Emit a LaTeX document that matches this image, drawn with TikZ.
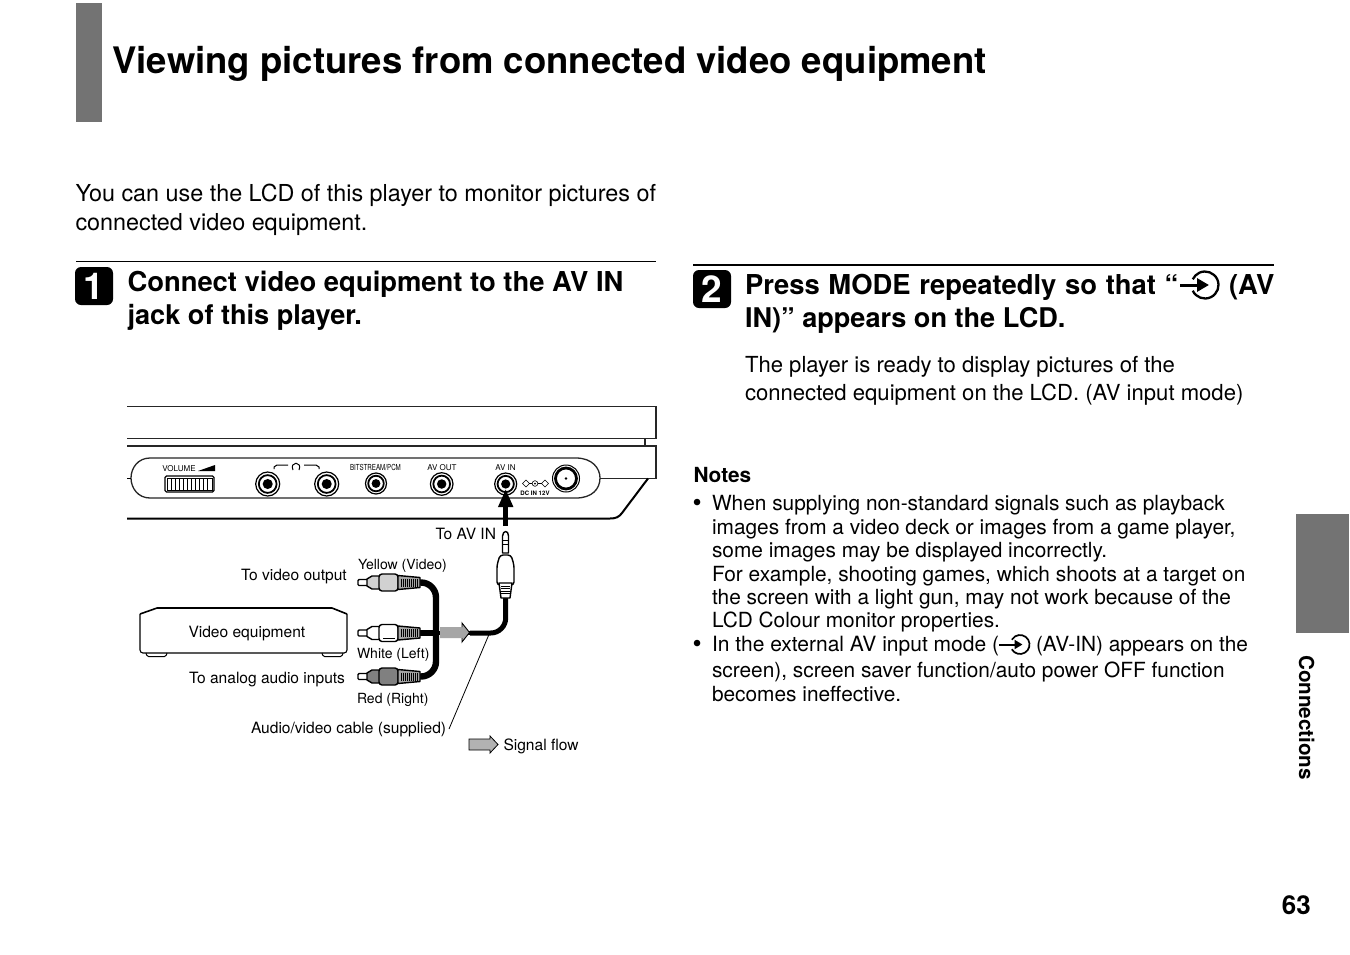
\documentclass[tikz,border=0pt]{standalone}
\usepackage{fontspec}
\setmainfont{TeX Gyre Heros}
\usetikzlibrary{arrows.meta}
\tikzset{
 txt/.style={anchor=base west,inner sep=0pt,outer sep=0pt,align=left},
 body/.style={txt,font=\fontsize{23.36}{28}\selectfont},
 para/.style={txt,font=\fontsize{22.1}{28}\selectfont},
 note/.style={txt,font=\fontsize{20.85}{26}\selectfont},
 bul/.style={txt,font=\fontsize{26}{26}\selectfont},
 head/.style={txt,font=\fontsize{27.4}{33}\selectfont\bfseries},
 headb/.style={txt,font=\fontsize{27.12}{33}\selectfont\bfseries},
 small/.style={txt,font=\fontsize{15.55}{18}\selectfont},
 smallb/.style={txt,font=\fontsize{14}{18}\selectfont},
 tiny/.style={anchor=base,inner sep=0pt,font=\fontsize{8}{10}\selectfont},
 devline/.style={draw=black!85,line width=1.3pt},
 graybar/.style={fill=black!55,draw=none},
 numbox/.style={fill=black,rounded corners=6pt,minimum width=38pt,minimum height=38pt,inner sep=0pt,text=white,font=\fontsize{37}{37}\selectfont\bfseries},
 flow/.style={fill=black!30,draw=black,line width=.8pt},
 plug/.style={draw=black,line width=1.4pt,line join=round}
}
\newcommand{\jack}[4]{% x y name radius
 \node[circle,draw=black,line width=1.2pt,fill=white,minimum size=#4*2pt,inner sep=0pt] (#3) at (#1,#2) {};
 \draw[line width=1.8pt] (#1,#2) circle (#4*0.74pt);
 \fill[black] (#1,#2) circle (#4*0.42pt);}
\newcommand{\rca}[3]{% y name bodycolor
 \draw[plug,fill=white,rounded corners=1pt] (358,#1-3) -- (368,#1-3) -- (368,#1+3) -- (358,#1+3) -- cycle;
 \draw[plug,fill=#3] (367,#1-3.5) -- (372,#1-6.5) -- (380,#1-6.5) -- (380,#1+6.5) -- (372,#1+6.5) -- (367,#1+3.5) -- cycle;
 \draw[plug,fill=#3,rounded corners=3pt] (379,#1-8.5) -- (398,#1-8.5) -- (398,#1+8.5) -- (379,#1+8.5) -- cycle;
 \draw[plug,fill=black!35] (398,#1-7) -- (420,#1-5) -- (420,#1+5) -- (398,#1+7) -- cycle;
 \foreach \k in {401,403,...,417} \draw[line width=.6pt] (\k,#1-4) -- (\k,#1+4);
 \coordinate (#2) at (420,#1);}
\begin{document}
\begin{tikzpicture}[x=1pt,y=-1pt]
\useasboundingbox (0,0) rectangle (1350,954);
\fill[white] (0,0) rectangle (1350,954);
% header
\fill[graybar] (76,3) rectangle (102,122);
\node[txt,font=\fontsize{36.5}{40}\selectfont\bfseries] (title) at (112.5,73) {Viewing pictures from connected video equipment};
\node[body] (intro1) at (75.5,201.5) {You can use the LCD of this player to monitor pictures of};
\node[body] (intro2) at (75.5,230) {connected video equipment.};
% step 1
\draw[line width=1pt] (76,261) -- (656,261);
\node[numbox] (n1) at (94,286) {1};
\node[head] (s1a) at (127.5,291) {Connect video equipment to the AV IN};
\node[headb] (s1b) at (127.5,324) {jack of this player.};
% step 2
\draw[line width=1.6pt] (693,265) -- (1274,265);
\node[numbox] (n2) at (712,289) {2};
\node[head] (s2a) at (745,294) {\spaceskip=8.7pt Press MODE repeatedly so that “};
\begin{scope}[shift={(1205,285)}]
 \coordinate (ic) at (0,0);
 \draw[line width=2.3pt] ([shift={(155:13.5)}]ic) arc[start angle=155,end angle=-155,radius=13.5];
 \draw[-{Triangle[length=12pt,width=13pt]},line width=3pt] (-25,0) -- (4,0);
\end{scope}
\node[head] (s2b) at (1229,294) {(AV};
\node[headb] (s2c) at (745,327) {IN)” appears on the LCD.};
\node[para] (p1) at (745,372) {The player is ready to display pictures of the};
\node[para] (p2) at (745,400) {connected equipment on the LCD. (AV input mode)};
% notes
\node[txt,font=\fontsize{20.8}{26}\selectfont\bfseries] (notes) at (693.5,482) {Notes};
\node[bul] (b1) at (692.5,511.5) {•};
\node[note] (na) at (712,510.5) {When supplying non-standard signals such as playback};
\node[note] (nb) at (712,534) {images from a video deck or images from a game player,};
\node[note] (nc) at (712,557.5) {some images may be displayed incorrectly.};
\node[note] (nd) at (712,581) {For example, shooting games, which shoots at a target on};
\node[note] (ne) at (712,604.5) {the screen with a light gun, may not work because of the};
\node[note] (nf) at (712,627.5) {LCD Colour monitor properties.};
\node[bul] (b2) at (692.5,652.5) {•};
\node[note,font=\fontsize{21}{26}\selectfont] (g1) at (712,651.5) {In the external AV input mode (};
\begin{scope}[shift={(1020,644.5)}]
 \coordinate (id) at (0,0);
 \draw[line width=1.7pt] ([shift={(150:9.5)}]id) arc[start angle=150,end angle=-150,radius=9.5];
 \draw[-{Triangle[length=8pt,width=9pt]},line width=2pt] (-21,0) -- (2.5,0);
\end{scope}
\node[note] (g2) at (1036,651.5) {(AV-IN) appears on the};
\node[note] (nh) at (712,677.5) {screen), screen saver function/auto power OFF function};
\node[note] (ni) at (712,701) {becomes ineffective.};
% side tab
\fill[graybar] (1296,514) rectangle (1349,633);
\node[anchor=base west,inner sep=0pt,rotate=-90,font=\fontsize{20.6}{22}\selectfont\bfseries] (conn) at (1299,655) {Connections};
\node[anchor=base east,inner sep=0pt,font=\fontsize{26}{30}\selectfont\bfseries] (page) at (1311,914) {63};
% device
\draw[devline] (127,406.5) -- (656,406.5) -- (656,438.5) -- (127,438.5);
\draw[devline] (127,446) -- (656,446) -- (656,478.5) -- (600,478.5);
\draw[devline] (645,438.5) -- (645,446);
\draw[line width=2pt] (127,518.5) -- (610,518.5) .. controls (616,518.5) and (619,517) .. (622,513) -- (648,478.5);
\draw[devline] (150,458) -- (576,458) .. controls (592,458) and (600,468) .. (600,478) .. controls (600,489) and (592,498) .. (576,498) -- (150,498) .. controls (138,498) and (131,488) .. (131,478) .. controls (131,468) and (138,458) .. (150,458);
\draw[line width=1pt] (127,478) -- (131,478);
% volume
\node[tiny] (vol) at (179,471) {VOLUME};
\fill[black] (198,471) -- (215,465) -- (215,471) -- cycle;
\draw[line width=1.2pt,rounded corners=1.5pt] (165,476) rectangle (214,492);
\draw[line width=.7pt] (167,478) rectangle (212,490);
\foreach \k in {171,175,...,207} \draw[line width=1pt] (\k,478) -- (\k,490);
% jacks
\jack{267.7}{484}{j1}{12}
\jack{326.7}{484}{j2}{12}
\jack{376}{483.5}{j3}{10.5}
\jack{441.7}{484}{j4}{11.3}
\jack{505.7}{484}{j5}{11}
\draw[line width=1pt] (274,469) -- (274,467) -- (277,465) -- (288,465);
\draw[line width=1pt] (304,465) -- (316,465) -- (319,467) -- (319,469);
\draw[line width=1pt] (293,470) .. controls (289,461) and (303,461) .. (299,470);
\node[tiny,font=\fontsize{8.3}{10}\selectfont] (bs) at (375.5,470) {\addfontfeature{FakeStretch=.75}BITSTREAM/PCM};
\node[tiny] (avo) at (442,470) {AV OUT};
\node[tiny] (avi) at (505.5,470) {AV IN};
\node[circle,draw=black,line width=1pt,fill=white,minimum size=27pt,inner sep=0pt] (dc) at (566,478.5) {};
\draw[line width=2.8pt] (566,478.5) circle (10.5pt);
\fill[black] (566,478.5) circle (1.4pt);
\draw[line width=.6pt] (526,480) -- (522.5,483.5) -- (526,487) -- (529.5,483.5) -- cycle (529.5,483.5) -- (532,483.5) (535,483.5) circle (2.8pt) (538,483.5) -- (541.5,483.5) (545,480) -- (541.5,483.5) -- (545,487) -- (548.5,483.5) -- cycle;
\fill (535,483.5) circle (1pt);
\node[tiny,font=\fontsize{6.1}{8}\selectfont\bfseries] (dcl) at (535,495) {DC IN 12V};
% arrow to AV IN
\coordinate (atip) at (505.7,489);
\coordinate (atail) at (505.7,526);
\draw[line width=5.5pt,-{Triangle[length=18pt,width=14pt]}] (atail) -- (atip);
\node[small] (toav) at (435.5,539) {To AV IN};
% cables
\draw[line width=4pt] (419,633) -- (490,633);
\draw[line width=5pt,rounded corners=15pt] (470,633) -- (505.7,633) -- (505.7,595);
\draw[line width=6.4pt,rounded corners=15pt] (419,582.5) -- (436,582.5) -- (436,676.5) -- (419,676.5);
\draw[line width=5.5pt] (419,633) -- (436,633);
% minijack plug
\draw[plug,fill=white] (502.5,553) -- (502.5,536) .. controls (503,530) and (508.5,530) .. (508.5,536) -- (508.5,553) -- cycle;
\draw[line width=.9pt] (502.5,540) -- (508.5,540) (502.5,544) -- (508.5,544);
\draw[plug,fill=white,rounded corners=3pt] (497,585) -- (497,565) -- (500,555) -- (511,555) -- (514,565) -- (514,585) -- cycle;
\draw[plug,fill=white] (499,583) -- (512,583) -- (510,598) -- (501,598) -- cycle;
\foreach \k in {586,588.5,591,593.5} \draw[line width=.8pt] (501,\k) -- (510,\k);
% RCA
\rca{582.5}{ry}{black!18}
\rca{633}{rw}{white}
\rca{676.5}{rr}{black!50}
\draw[line width=.9pt] (383,638) -- (395,638);
% signal arrow in cable
\fill[black!35] (440,627) -- (462,627) -- (462,623) -- (469.5,632.5) -- (462,642) -- (462,638) -- (440,638) -- cycle;
\draw[line width=.9pt] (462,627) -- (462,623) -- (469.5,632.5) -- (462,642) -- (462,638);
% leader
\draw[line width=.8pt] (449,729) -- (490,632);
% video equipment
\draw[line width=1.1pt,rounded corners=3pt] (140,614) -- (140,653) -- (347,653) -- (347,614);
\draw[line width=1.6pt,line join=round] (140,614) -- (157,608) -- (332,608) -- (347,614);
\draw[line width=1pt,rounded corners=1.5pt] (146,653) -- (147,656.5) -- (166,656.5) -- (167,653);
\draw[line width=1pt,rounded corners=1.5pt] (322,653) -- (323,656.5) -- (342,656.5) -- (343,653);
\node[small] (ve) at (188.5,637) {Video equipment};
\node[small] (tv) at (241,580) {To video output};
\node[small] (ta) at (189,683) {To analog audio inputs};
\node[smallb] (yv) at (358,569) {Yellow (Video)};
\node[smallb] (wl) at (357,658) {White (Left)};
\node[smallb] (rr2) at (357,703) {Red (Right)};
\node[small] (avc) at (251,733) {Audio/video cable (supplied)};
\node[small] (sf) at (503.5,750) {Signal flow};
\draw[flow] (469,739) -- (490,739) -- (490,736) -- (498,744.5) -- (490,753) -- (490,750) -- (469,750) -- cycle;
\end{tikzpicture}
\end{document}
